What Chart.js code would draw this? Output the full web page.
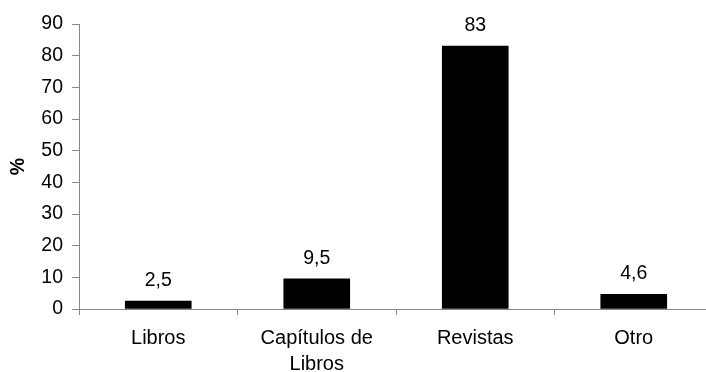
<!DOCTYPE html>
<html>
<head>
<meta charset="utf-8">
<script src="https://cdn.jsdelivr.net/npm/chart.js@4"></script>
<style>
  html, body { margin: 0; padding: 0; background: #fff; overflow: hidden; }
  #wrap { width: 706px; height: 372px; overflow: hidden; }
  canvas { display: block; }
</style>
</head>
<body>
<div id="wrap"><canvas id="c" width="714" height="372"></canvas></div>
<script>
// Publication types and their share (%)
const categories = ['Libros', ['Capítulos de', 'Libros'], 'Revistas', 'Otro'];
const percentages = [2.5, 9.5, 83, 4.6];
const yTicks = [0, 10, 20, 30, 40, 50, 60, 70, 80, 90];

const FONT = "'Liberation Sans', Arial, sans-serif";
const AXIS_GREY = '#868686';

// Writes each value above its bar, with a decimal comma
const valueLabels = {
  id: 'valueLabels',
  afterDatasetsDraw(chart) {
    const ctx = chart.ctx;
    const meta = chart.getDatasetMeta(0);
    ctx.save();
    ctx.font = '19.5px ' + FONT;
    ctx.fillStyle = '#000';
    ctx.textAlign = 'center';
    ctx.textBaseline = 'alphabetic';
    meta.data.forEach((bar, i) => {
      const txt = String(percentages[i]).replace('.', ',');
      ctx.fillText(txt, bar.x, bar.y - 15);
    });
    ctx.restore();
  }
};

new Chart(document.getElementById('c'), {
  type: 'bar',
  data: {
    labels: categories,
    datasets: [{
      data: percentages,
      backgroundColor: '#000',
      borderColor: '#000',
      borderWidth: 0,
      barThickness: 66
    }]
  },
  options: {
    responsive: false,
    animation: false,
    devicePixelRatio: 1,
    layout: { padding: { top: 24, right: 1, left: 0, bottom: 0 } },
    plugins: {
      legend: { display: false },
      tooltip: { enabled: false }
    },
    scales: {
      x: {
        offset: true,
        border: { display: true, color: AXIS_GREY, width: 1 },
        grid: {
          offset: true,
          drawOnChartArea: false,
          drawTicks: true,
          tickLength: 6,
          color: AXIS_GREY
        },
        ticks: {
          color: '#000',
          font: { family: FONT, size: 20, lineHeight: 1.3 },
          padding: 10,
          maxRotation: 0,
          autoSkip: false
        },
        afterFit(scale) { scale.height = 63; }
      },
      y: {
        min: 0,
        max: 90,
        afterBuildTicks(scale) { scale.ticks = yTicks.map(v => ({ value: v })); },
        border: { display: true, color: AXIS_GREY, width: 1 },
        grid: {
          drawOnChartArea: false,
          drawTicks: true,
          tickLength: 7,
          color: AXIS_GREY
        },
        ticks: {
          color: '#000',
          font: { family: FONT, size: 19.5 },
          padding: 9
        },
        title: {
          display: true,
          text: '%',
          color: '#000',
          font: { family: FONT, size: 19.5, weight: 'bold' },
          padding: { top: 7, bottom: 0 }
        },
        afterFit(scale) { scale.width = 79; }
      }
    }
  },
  plugins: [valueLabels]
});
</script>
</body>
</html>
